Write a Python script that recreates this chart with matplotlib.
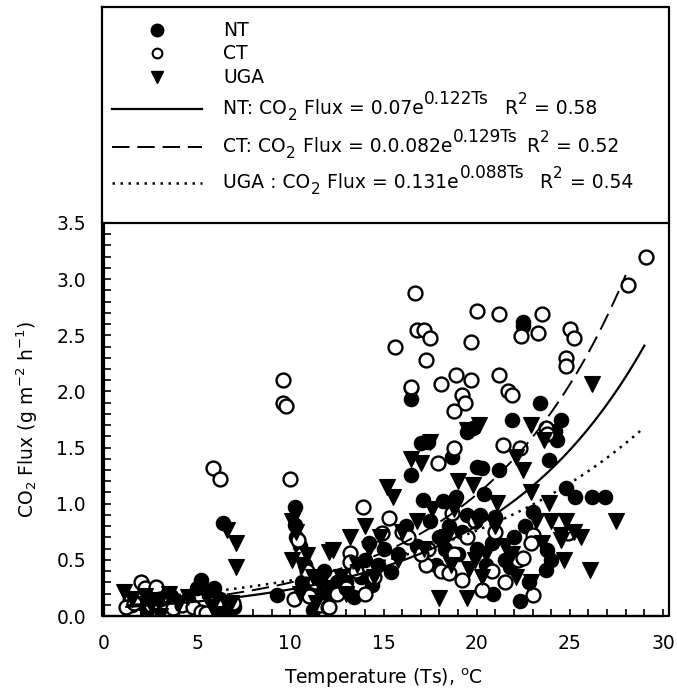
import numpy as np
import matplotlib
matplotlib.use("Agg")
import matplotlib.pyplot as plt
from matplotlib.ticker import MultipleLocator

plt.rcParams['font.family'] = ['DejaVu Sans']
plt.rcParams['mathtext.fontset'] = 'dejavusans'

# NT - filled circles
nt_T = [1.5, 2.0, 2.3, 2.6, 3.0, 3.3, 3.6, 4.0, 4.5, 5.0, 5.2, 5.6, 5.9, 6.2, 6.5, 6.4, 7.0, 6.6,
        9.3, 10.25, 10.25, 10.3, 10.5, 10.8, 11.0, 11.3, 11.5, 11.2, 12.0, 12.5, 12.8, 10.6, 11.8,
        13.4, 13.8, 14.0, 14.4, 14.7, 15.0, 15.4, 15.8, 13.0, 14.2,
        16.5, 16.5, 16.5, 17.0, 17.4, 17.1, 18.2, 18.9, 18.7, 19.5, 19.8, 20.0, 20.3, 17.5, 18.0,
        18.5, 19.0, 19.5, 16.8, 17.8, 18.3, 19.2, 16.2, 20.2, 20.0,
        22.5, 22.5, 23.4, 21.9, 20.4, 21.0, 23.0, 20.9, 22.3, 23.7, 23.8, 21.8, 23.9, 20.8, 21.5,
        22.0, 21.2, 22.6, 20.5, 22.8,
        24.5, 24.3, 24.8, 25.3, 26.2, 26.9, 24.0, 24.2]
nt_F = [0.10, 0.12, 0.05, 0.15, 0.08, 0.12, 0.18, 0.10, 0.15, 0.25, 0.32, 0.22, 0.25, 0.15, 0.10, 0.83, 0.08, 0.05,
        0.19, 0.97, 0.81, 0.70, 0.62, 0.45, 0.35, 0.25, 0.15, 0.05, 0.20, 0.30, 0.25, 0.30, 0.40,
        0.17, 0.35, 0.50, 0.28, 0.45, 0.60, 0.39, 0.55, 0.30, 0.65,
        1.93, 2.03, 1.26, 1.54, 1.55, 1.03, 1.02, 1.06, 1.42, 1.64, 1.67, 1.33, 1.32, 0.85, 0.70,
        0.80, 0.55, 0.90, 0.62, 0.45, 0.60, 0.75, 0.80, 0.90, 0.60,
        2.62, 2.58, 1.90, 1.75, 1.09, 0.88, 0.93, 0.20, 0.13, 0.41, 0.59, 0.44, 1.39, 0.65, 0.50,
        0.70, 1.30, 0.80, 0.45, 0.30,
        1.75, 1.57, 1.14, 1.06, 1.06, 1.06, 0.50, 1.65]

# CT - open circles
ct_T = [1.2, 1.6, 2.0, 2.2, 2.5, 2.8, 3.2, 3.7, 4.2, 4.8, 5.2, 5.5, 5.85, 6.2, 6.0, 6.9, 3.0,
        9.6, 9.6, 9.75, 10.0, 10.2, 10.4, 10.6, 10.9, 11.3, 11.6, 12.0, 12.5, 11.0,
        13.2, 13.2, 13.9, 14.9, 15.3, 16.0, 12.1, 13.5, 14.5, 13.0, 15.6, 14.0,
        16.7, 16.8, 17.2, 17.5, 17.3, 18.1, 18.9, 19.7, 19.2, 19.4, 18.8, 19.7, 20.0, 16.5, 18.8,
        17.9, 18.7, 17.4, 17.3, 18.1, 18.5, 18.8, 19.2, 20.3, 16.3, 17.0, 19.5, 19.9,
        21.2, 23.5, 22.4, 23.3, 21.2, 21.7, 21.9, 23.7, 21.4, 22.3, 23.0, 22.9, 23.0, 22.2, 22.5,
        21.0, 20.8, 21.5,
        25.0, 25.2, 24.8, 24.8, 24.9, 28.1, 29.1, 23.8]
ct_F = [0.08, 0.12, 0.30, 0.25, 0.10, 0.26, 0.05, 0.07, 0.10, 0.08, 0.04, 0.03, 1.32, 1.22, 0.10, 0.12, 0.15,
        2.10, 1.90, 1.87, 1.22, 0.15, 0.68, 0.55, 0.40, 0.30, 0.10, 0.08, 0.20, 0.18,
        0.56, 0.48, 0.97, 0.74, 0.87, 0.75, 0.08, 0.40, 0.35, 0.25, 2.40, 0.20,
        2.88, 2.55, 2.55, 2.48, 2.28, 2.07, 2.15, 2.10, 1.97, 1.90, 1.83, 2.44, 2.72, 2.04, 1.50,
        1.36, 0.92, 0.60, 0.45, 0.40, 0.38, 0.55, 0.32, 0.23, 0.70, 0.55, 0.70, 0.85,
        2.69, 2.69, 2.49, 2.52, 2.15, 2.00, 1.97, 1.67, 1.52, 1.50, 0.72, 0.65, 0.19, 0.50, 0.52,
        0.75, 0.40, 0.30,
        2.56, 2.48, 2.30, 2.23, 0.74, 2.95, 3.20, 1.62]

# UGA - filled down triangles
uga_T = [1.1, 1.5, 2.2, 2.5, 3.0, 3.0, 3.5, 4.0, 4.5, 5.5, 5.8, 6.0, 6.6, 7.1, 7.1, 6.8,
         10.1, 10.3, 10.1, 10.6, 10.9, 11.2, 11.6, 12.3, 12.0, 12.7, 11.4, 10.5,
         13.2, 12.1, 13.6, 14.2, 14.8, 15.2, 15.5, 13.0, 14.5, 15.8, 14.0,
         17.5, 16.5, 17.0, 19.5, 20.1, 19.8, 18.0, 19.5, 19.9, 19.6, 16.8, 17.6, 18.4, 19.0, 16.0,
         17.2, 18.6, 20.0, 18.8,
         22.5, 22.9, 22.1, 23.6, 22.9, 23.9, 21.1, 22.1, 22.9, 21.5, 21.9, 20.5, 23.5, 21.0, 20.3, 23.2,
         26.2, 27.5, 26.1, 24.7, 24.8, 25.2, 24.5, 24.5, 25.6, 24.0]
uga_F = [0.21, 0.15, 0.18, 0.10, 0.00, 0.14, 0.20, 0.12, 0.17, 0.18, 0.08, 0.02, 0.77, 0.65, 0.44, 0.12,
         0.85, 0.75, 0.50, 0.45, 0.54, 0.35, 0.28, 0.59, 0.25, 0.35, 0.12, 0.20,
         0.70, 0.57, 0.45, 0.60, 0.70, 1.15, 1.06, 0.20, 0.35, 0.50, 0.80,
         1.55, 1.40, 1.36, 1.66, 1.70, 1.17, 0.16, 0.16, 0.50, 0.42, 0.85, 0.95, 0.70, 1.20, 0.75,
         0.60, 0.45, 0.85, 0.95,
         1.30, 1.70, 1.42, 1.57, 1.10, 1.01, 1.01, 0.35, 0.30, 0.62, 0.55, 0.55, 0.65, 0.80, 0.35, 0.85,
         2.07, 0.85, 0.41, 0.50, 0.85, 0.75, 0.72, 0.68, 0.70, 0.85]

# fitted exponential curves: a * exp(b * Ts)
fit_a = [0.07, 0.082, 0.131]
fit_b = [0.122, 0.129, 0.088]
fit_range = [(1.2, 29.0), (1.2, 28.0), (1.0, 28.8)]

legend_labels = ['NT', 'CT', 'UGA']
eq_prefix = ['NT: CO', 'CT: CO', 'UGA : CO']
eq_coef = [' Flux = 0.07e', ' Flux = 0.0.082e', ' Flux = 0.131e']
eq_exp = ['0.122Ts', '0.129Ts', '0.088Ts']
eq_r2 = ['0.58', '0.52', '0.54']

W, H = 677, 691
FS = 13.5
LFS = 13.5
fig = plt.figure(figsize=(W / 100, H / 100), dpi=100)
ax = fig.add_axes([104 / W, (H - 616) / H, (663 - 104) / W, (616 - 223) / H])

ms = 10
ax.plot(nt_T, nt_F, 'o', ms=ms, mfc='black', mec='black', mew=1.2, ls='none')
ax.plot(ct_T, ct_F, 'o', ms=ms, mfc='white', mec='black', mew=1.7, ls='none')
ax.plot(uga_T, uga_F, 'v', ms=ms + 1, mfc='black', mec='black', mew=0.8, ls='none')

styles = [dict(ls='-', lw=1.6), dict(ls=(0, (9, 4)), lw=1.4), dict(ls=(0, (1, 2.2)), lw=1.8)]
for a, b, (t0, t1), st in zip(fit_a, fit_b, fit_range, styles):
    t = np.linspace(t0, t1, 200)
    ax.plot(t, a * np.exp(b * t), color='black', **st)

ax.set_xlim(0, 30)
ax.set_ylim(0, 3.5)
ax.xaxis.set_major_locator(MultipleLocator(5))
ax.xaxis.set_minor_locator(MultipleLocator(1))
ax.yaxis.set_major_locator(MultipleLocator(0.5))
ax.yaxis.set_minor_locator(MultipleLocator(0.1))
ax.yaxis.set_major_formatter('{x:.1f}')
ax.tick_params(which='both', direction='in', length=5, width=1.2, labelsize=FS)
ax.tick_params(axis='x', pad=13)
ax.tick_params(axis='y', pad=13)
ax.spines['top'].set_visible(False)
ax.spines['right'].set_visible(False)
for s in ['left', 'bottom']:
    ax.spines[s].set_linewidth(1.6)

ax.set_xlabel('Temperature (Ts), $\\mathregular{^{o}}$C', fontsize=FS, labelpad=10)
ax.set_ylabel('CO$\\mathregular{_2}$ Flux (g m$\\mathregular{^{-2}}$ h$\\mathregular{^{-1}}$)',
              fontsize=FS, labelpad=12)

# overlay in pixel coordinates for the outer frame and the legend
ov = fig.add_axes([0, 0, 1, 1], facecolor='none')
ov.set_xlim(0, W)
ov.set_ylim(H, 0)
ov.axis('off')
ov.plot([102, 669, 669, 102, 102], [7, 7, 616, 616, 7], color='black', lw=1.6)
ov.plot([102, 669], [223, 223], color='black', lw=1.6)

mk_x, txt_x = 157, 223
rows = [30, 53, 77]
ov.plot(mk_x, rows[0], 'o', ms=9, mfc='black', mec='black')
ov.plot(mk_x, rows[1], 'o', ms=7, mfc='white', mec='black', mew=1.5)
ov.plot(mk_x, rows[2], 'v', ms=9, mfc='black', mec='black')
for y, lab in zip(rows, legend_labels):
    ov.text(txt_x, y, lab, fontsize=LFS, va='center', ha='left')


def chain(prev, y, s, dy, size, gap=0.5):
    # put s right after prev, on baseline y shifted by dy points
    return ov.annotate(s, xy=(1, y), xycoords=(prev, 'data'), xytext=(gap, dy),
                       textcoords='offset points', fontsize=size, va='baseline', ha='left')


line_rows = [109, 147, 183]
r2_gap = [11, 6, 11]
for i, y in enumerate(line_rows):
    ov.plot([112, 202], [y, y], color='black', **styles[i])
    base = y + 5
    t = ov.text(txt_x, base, eq_prefix[i], fontsize=LFS, va='baseline', ha='left')
    t = chain(t, base, '2', -4, LFS * 0.8)
    t = chain(t, base, eq_coef[i], 0, LFS)
    t = chain(t, base, eq_exp[i], 7, LFS * 0.9)
    t = chain(t, base, 'R', 0, LFS, gap=r2_gap[i])
    t = chain(t, base, '2', 7, LFS * 0.8)
    chain(t, base, ' = ' + eq_r2[i], 0, LFS)

fig.savefig('out.png', dpi=100)
